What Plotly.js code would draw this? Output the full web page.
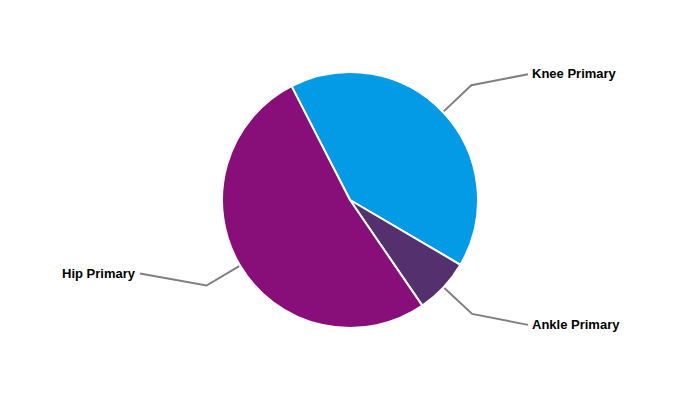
<!DOCTYPE html>
<html>
<head>
<meta charset="utf-8">
<script src="https://cdn.plot.ly/plotly-3.0.1.min.js"></script>
<style>html,body{margin:0;padding:0;background:#fff;}#chart{width:700px;height:400px;}</style>
</head>
<body>
<div id="chart"></div>
<script>
const labels = ["Knee Primary", "Ankle Primary", "Hip Primary"];
const values = [41, 7, 52];
const colors = ["#039BE5", "#55306F", "#880E79"];
const labelDy = [-11, 11, -12];   // vertical shift of label from elbow (px)

const W = 700, H = 400;
const cx = 350, cy = 200, R = 128;
const rotation = -27.2;

const total = values.reduce((a, b) => a + b, 0);
const shapes = [], annotations = [];
let acc = 0;
values.forEach((v, i) => {
  const mid = rotation + (acc + v / 2) / total * 360;
  acc += v;
  const a = mid * Math.PI / 180;
  const dx = Math.sin(a), dy = -Math.cos(a);
  const p1 = [cx + dx * (R + 1), cy + dy * (R + 1)];
  const p2 = [cx + dx * 167, cy + dy * 167];
  const right = dx >= 0;
  const p3 = [right ? cx + 178 : cx - 210, p2[1] + labelDy[i]];
  const toP = p => [p[0] / W, 1 - p[1] / H];
  const q1 = toP(p1), q2 = toP(p2), q3 = toP(p3);
  shapes.push({
    type: "path", xref: "paper", yref: "paper",
    path: `M ${q1[0]} ${q1[1]} L ${q2[0]} ${q2[1]} L ${q3[0]} ${q3[1]}`,
    line: {color: "#808080", width: 2}
  });
  annotations.push({
    xref: "paper", yref: "paper", x: (p3[0] + (right ? 2 : -2)) / W, y: 1 - (p3[1] - 0.5) / H,
    xanchor: right ? "left" : "right", yanchor: "middle", showarrow: false,
    text: "<b>" + labels[i] + "</b>",
    font: {family: "Liberation Sans, Arial, sans-serif", size: 13, color: "#000"}
  });
});

const data = [{
  type: "pie",
  labels: labels,
  values: values,
  sort: false,
  direction: "clockwise",
  rotation: rotation,
  textinfo: "none",
  hoverinfo: "label+value",
  marker: {colors: colors, line: {color: "#ffffff", width: 2}},
  domain: {x: [(cx - R) / W, (cx + R) / W], y: [1 - (cy + R) / H, 1 - (cy - R) / H]}
}];

const layout = {
  width: W, height: H,
  margin: {l: 0, r: 0, t: 0, b: 0},
  paper_bgcolor: "#ffffff",
  showlegend: false,
  shapes: shapes,
  annotations: annotations
};

Plotly.newPlot("chart", data, layout, {displayModeBar: false, staticPlot: true});
</script>
</body>
</html>
